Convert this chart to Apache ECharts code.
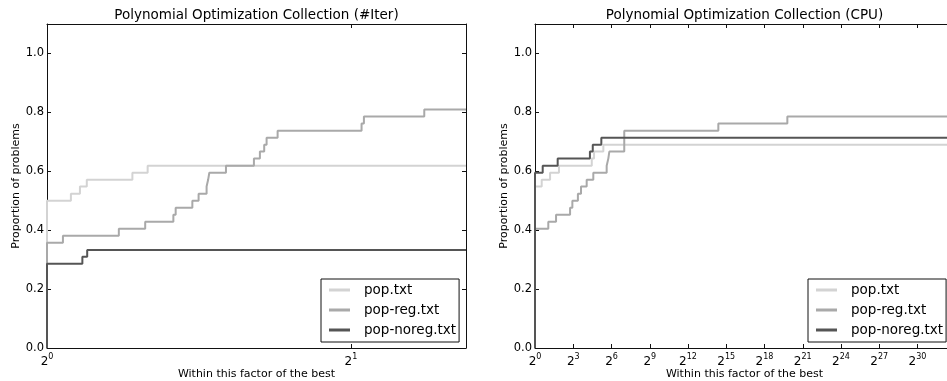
<!DOCTYPE html>
<html>
<head>
<meta charset="utf-8">
<script src="https://cdn.jsdelivr.net/npm/echarts@6/dist/echarts.min.js"></script>
<style>
	html, body { margin: 0; padding: 0; background: #fff; }
	#chart { width: 947px; height: 381px; }
</style>
</head>
<body>
<div id="chart"></div>
<script>
// series names and titles
var solvers = ['pop.txt', 'pop-reg.txt', 'pop-noreg.txt'];
var titles = ['Polynomial Optimization Collection (#Iter)', 'Polynomial Optimization Collection (CPU)'];

// x extent of each panel (factor of the best), log2 axis
var iterMax = 2.6;
var cpuMax = 7.8e9;

// #Iter panel: factor where the step happens, proportion after the step
var iterPopX = [1, 1, 1.056, 1.078, 1.095, 1.215, 1.258, 2.6];
var iterPopY = [0, 0.500, 0.524, 0.548, 0.571, 0.595, 0.619, 0.619];

var iterRegX = [1, 1, 1.037, 1.178, 1.251, 1.334, 1.341, 1.393, 1.413, 1.439, 1.444, 1.448, 1.504, 1.603, 1.625, 1.641, 1.650, 1.692, 2.049, 2.060, 2.364, 2.6];
var iterRegY = [0, 0.357, 0.381, 0.405, 0.429, 0.452, 0.476, 0.500, 0.524, 0.548, 0.571, 0.595, 0.619, 0.643, 0.667, 0.690, 0.714, 0.738, 0.762, 0.786, 0.810, 0.810];

var iterNoregX = [1, 1, 1.084, 1.096, 2.6];
var iterNoregY = [0, 0.286, 0.310, 0.333, 0.333];

// CPU panel
var cpuPopX = [1, 1, 1.44, 2.27, 3.68, 21.9, 24.8, 41.1, 7.8e9];
var cpuPopY = [0, 0.548, 0.571, 0.595, 0.619, 0.643, 0.667, 0.690, 0.690];

var cpuRegX = [1, 1, 2.06, 3.14, 6.73, 7.62, 10.3, 12.2, 16.6, 23.8, 49.2, 53.8, 56.9, 128, 21300, 907000, 7.8e9];
var cpuRegY = [0, 0.405, 0.429, 0.452, 0.476, 0.500, 0.524, 0.548, 0.571, 0.595, 0.619, 0.643, 0.667, 0.738, 0.762, 0.786, 0.786];

var cpuNoregX = [1, 1, 1.52, 3.43, 19.8, 23.1, 36.8, 7.8e9];
var cpuNoregY = [0, 0.595, 0.619, 0.643, 0.667, 0.690, 0.714, 0.714];

var colors = ['#d3d3d3', '#a9a9a9', '#555555'];
var font = 'DejaVu Sans';

function pairs(xs, ys) {
	return xs.map(function(x, i) {
		return [x, ys[i]];
	});
}

function powLabel(v) {
	var n = Math.round(Math.log(v) / Math.LN2);
	return '{b|2}{s|' + n + '}';
}

function xAxes(idx, max, interval, title) {
	var line = { show: true, onZero: false, lineStyle: { color: '#111', width: 1 } };
	var tick = { show: true, inside: true, length: 4, lineStyle: { color: '#111' } };
	return [
		{
			type: 'log',
			logBase: 2,
			gridIndex: idx,
			min: 1,
			max: max,
			interval: interval,
			position: 'bottom',
			axisLine: line,
			axisTick: tick,
			splitLine: { show: false },
			axisLabel: {
				formatter: powLabel,
				showMaxLabel: false,
				margin: 4,
				color: '#000',
				fontFamily: font,
				rich: {
					b: { fontSize: 12, fontFamily: font, color: '#000', padding: [4, 0, 0, 0] },
					s: { fontSize: 8, fontFamily: font, color: '#000', padding: [0, 0, 6, 0] },
				},
			},
			name: 'Within this factor of the best',
			nameLocation: 'middle',
			nameGap: 21,
			nameMoveOverlap: false,
			nameTextStyle: { fontSize: 11, fontFamily: font, color: '#000' },
		},
		{
			type: 'log',
			logBase: 2,
			gridIndex: idx,
			min: 1,
			max: max,
			interval: interval,
			position: 'top',
			axisLine: line,
			axisTick: tick,
			splitLine: { show: false },
			axisLabel: { show: false },
			name: title,
			nameLocation: 'middle',
			nameGap: 2,
			nameTextStyle: { fontSize: 13.5, fontFamily: font, color: '#000' },
		},
	];
}

function yAxes(idx) {
	var line = { show: true, lineStyle: { color: '#111', width: 1 } };
	var tick = { show: true, inside: true, length: 4, lineStyle: { color: '#111' } };
	return [
		{
			type: 'value',
			gridIndex: idx,
			min: 0,
			max: 1.1,
			interval: 0.2,
			position: 'left',
			axisLine: line,
			axisTick: tick,
			splitLine: { show: false },
			axisLabel: {
				formatter: function(v) {
					return v.toFixed(1);
				},
				showMaxLabel: false,
				margin: 3,
				fontSize: 11.5,
				fontFamily: font,
				color: '#000',
			},
			name: 'Proportion of problems',
			nameLocation: 'middle',
			nameGap: 25,
			nameMoveOverlap: false,
			nameTextStyle: { fontSize: 11, fontFamily: font, color: '#000' },
		},
		{
			type: 'value',
			gridIndex: idx,
			min: 0,
			max: 1.1,
			interval: 0.2,
			position: 'right',
			axisLine: line,
			axisTick: tick,
			splitLine: { show: false },
			axisLabel: { show: false },
		},
	];
}

function stepSeries(name, color, axisIdx, data) {
	return {
		name: name,
		type: 'line',
		step: 'end',
		xAxisIndex: axisIdx,
		yAxisIndex: axisIdx,
		symbol: 'none',
		silent: true,
		animation: false,
		color: color,
		lineStyle: { color: color, width: 2 },
		data: data,
	};
}

function legendAt(left) {
	return {
		data: solvers,
		orient: 'vertical',
		left: left,
		top: 279,
		icon: 'rect',
		itemWidth: 21,
		itemHeight: 3,
		itemGap: 4,
		padding: [3, 3, 4, 8],
		borderColor: '#111',
		borderWidth: 1,
		borderRadius: 0,
		backgroundColor: '#fff',
		selectedMode: false,
		textStyle: { fontSize: 13.5, fontFamily: font, color: '#000', lineHeight: 16, padding: [0, 0, 0, 9] },
	};
}

var chart = echarts.init(document.getElementById('chart'), null, { renderer: 'canvas' });

var option = {
	backgroundColor: '#fff',
	animation: false,
	grid: [
		{ left: 47, right: 481, top: 24, bottom: 33, outerBoundsMode: 'none' },
		{ left: 535, right: -7, top: 24, bottom: 33, outerBoundsMode: 'none' },
	],
	xAxis: xAxes(0, iterMax, 1, titles[0]).concat(xAxes(1, cpuMax, 3, titles[1])),
	yAxis: yAxes(0).concat(yAxes(1)),
	legend: [legendAt(321), legendAt(808)],
	series: [
		stepSeries(solvers[0], colors[0], 0, pairs(iterPopX, iterPopY)),
		stepSeries(solvers[1], colors[1], 0, pairs(iterRegX, iterRegY)),
		stepSeries(solvers[2], colors[2], 0, pairs(iterNoregX, iterNoregY)),
		stepSeries(solvers[0], colors[0], 2, pairs(cpuPopX, cpuPopY)),
		stepSeries(solvers[1], colors[1], 2, pairs(cpuRegX, cpuRegY)),
		stepSeries(solvers[2], colors[2], 2, pairs(cpuNoregX, cpuNoregY)),
	],
};

chart.setOption(option);
</script>
</body>
</html>
